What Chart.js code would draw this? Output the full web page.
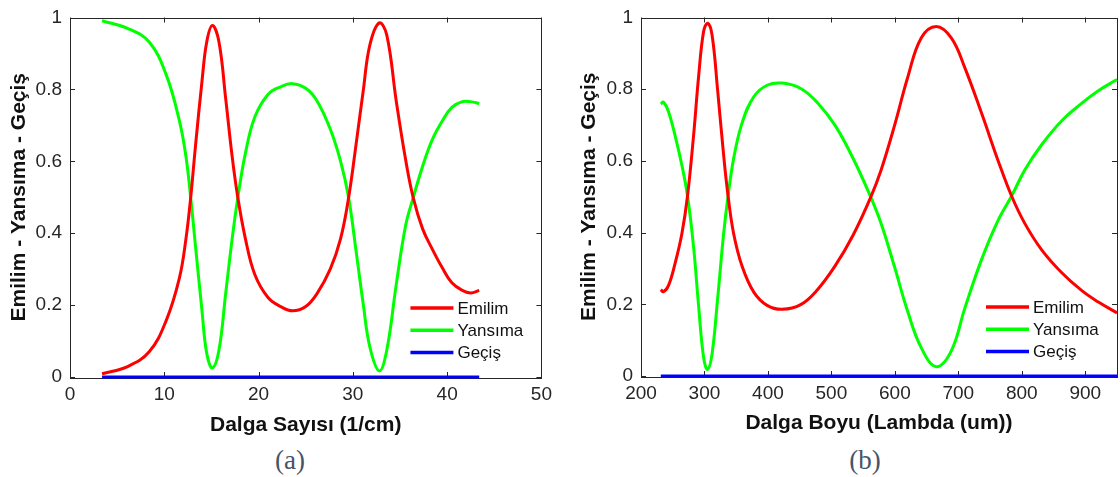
<!DOCTYPE html>
<html>
<head>
<meta charset="utf-8">
<script src="https://cdn.jsdelivr.net/npm/chart.js@4.4.1/dist/chart.umd.min.js"></script>
<style>
  body { margin: 0; background: #fff; width: 1120px; height: 477px; overflow: hidden; position: relative; }
  canvas { position: absolute; top: 0; }
  #chartA { left: 0; }
  #chartB { left: 560px; }
  .cap { position: absolute; top: 444px; width: 100px; text-align: center; line-height: 32px;
         font-family: "Liberation Serif", "Times New Roman", serif; font-size: 27px; color: #44546a; }
</style>
</head>
<body>
<canvas id="chartA" width="560" height="440"></canvas>
<canvas id="chartB" width="560" height="440"></canvas>
<div class="cap" style="left:240px">(a)</div>
<div class="cap" style="left:815px">(b)</div>
<script>
// (a) Dalga Sayısı (1/cm)
let waveNum = [3.4, 6.1, 8.4, 10.2, 11.6, 12.3, 12.8, 13.3, 14.0, 14.5, 15.1, 15.8, 16.5, 17.2, 17.8, 18.6, 19.6,
    21.0, 22.4, 23.6, 25.0, 26.2, 27.6, 28.7, 29.55, 30.4, 31.1, 31.8, 32.8, 33.6, 34.6, 35.6, 36.4, 37.4,
    38.4, 39.5, 40.5, 41.6, 42.5, 43.4];
let emilimA = [0.009, 0.029, 0.070, 0.157, 0.275, 0.385, 0.499, 0.64, 0.823, 0.932, 0.978, 0.932, 0.777, 0.613, 0.499, 0.385, 0.285,
    0.221, 0.195, 0.184, 0.196, 0.232, 0.300, 0.385, 0.499, 0.659, 0.796, 0.923, 0.985, 0.951, 0.768, 0.604, 0.499, 0.412,
    0.357, 0.303, 0.262, 0.241, 0.234, 0.241];
let yansimaA = [0.991, 0.970, 0.932, 0.841, 0.713, 0.613, 0.499, 0.367, 0.184, 0.066, 0.025, 0.075, 0.23, 0.385, 0.499, 0.622, 0.723,
    0.786, 0.808, 0.816, 0.803, 0.768, 0.690, 0.600, 0.499, 0.339, 0.203, 0.084, 0.017, 0.075, 0.257, 0.422, 0.499, 0.586,
    0.659, 0.713, 0.75, 0.766, 0.766, 0.761];
let gecisXA = [3.4, 43.4];
let gecisA = [0, 0];
let xTicksA = [0, 10, 20, 30, 40, 50];

// (b) Dalga Boyu (Lambda (um))
let waveLen = [231.2, 235.3, 243.2, 253.8, 264.4, 273.3, 282.8, 290.7, 298.6, 304.9, 311.9, 320.7, 330.2, 337.2, 346,
    359.3, 377.7, 398.7, 422.5, 451.6, 477.7, 505.8, 533.9, 562, 578.2, 599.2, 620.4, 641.5, 665.2, 688.9,
    710, 736.4, 762.8, 783.9, 804.9, 831.3, 863, 894.6, 920, 950];
let emilimB = [0.241, 0.235, 0.252, 0.315, 0.397, 0.502, 0.67, 0.834, 0.961, 0.984, 0.952, 0.798, 0.616, 0.502, 0.397,
    0.306, 0.234, 0.197, 0.186, 0.199, 0.240, 0.307, 0.392, 0.499, 0.574, 0.697, 0.834, 0.943, 0.975, 0.943,
    0.861, 0.734, 0.600, 0.502, 0.425, 0.352, 0.288, 0.238, 0.207, 0.176];
let yansimaB = [0.759, 0.764, 0.738, 0.67, 0.588, 0.502, 0.361, 0.197, 0.052, 0.018, 0.061, 0.215, 0.397, 0.502, 0.607,
    0.706, 0.779, 0.811, 0.817, 0.802, 0.763, 0.699, 0.608, 0.499, 0.426, 0.306, 0.179, 0.079, 0.026, 0.07,
    0.188, 0.324, 0.435, 0.502, 0.575, 0.645, 0.712, 0.761, 0.795, 0.827];
let gecisXB = [231.2, 950];
let gecisB = [0, 0];
let xTicksB = [200, 300, 400, 500, 600, 700, 800, 900];

let seriesNames = ['Emilim', 'Yansıma', 'Geçiş'];
let seriesColors = ['#ff0000', '#00ff00', '#0000ff'];
let yTicks = [0, 0.2, 0.4, 0.6, 0.8, 1];

const FONT = '"Liberation Sans", Arial, Helvetica, sans-serif';
const AXIS_COLOR = '#262626';

function pairs(xs, ys) {
    let out = [];
    for (let i = 0; i < xs.length; i++) {
        out.push({x: xs[i], y: ys[i]});
    }
    return out;
}

// matlab style box with inward ticks on all four sides
const boxPlugin = {
    id: 'box',
    beforeDatasetsDraw(chart) {
        const ctx = chart.ctx;
        const a = chart.chartArea;
        const xs = chart.scales.x, ys = chart.scales.y;
        ctx.save();
        ctx.strokeStyle = AXIS_COLOR;
        ctx.lineWidth = 1;
        ctx.beginPath();
        xs.ticks.forEach(t => {
            let px = Math.round(xs.getPixelForValue(t.value)) + 0.5;
            ctx.moveTo(px, a.bottom); ctx.lineTo(px, a.bottom - 5);
            ctx.moveTo(px, a.top); ctx.lineTo(px, a.top + 5);
        });
        ys.ticks.forEach(t => {
            let py = Math.round(ys.getPixelForValue(t.value)) + 0.5;
            ctx.moveTo(a.left, py); ctx.lineTo(a.left + 5, py);
            ctx.moveTo(a.right, py); ctx.lineTo(a.right - 5, py);
        });
        ctx.stroke();
        ctx.strokeRect(Math.round(a.left) + 0.5, Math.round(a.top) + 0.5,
            Math.round(a.right - a.left), Math.round(a.bottom - a.top));
        ctx.restore();
    }
};

// legend in the lower right corner of the plot
const cornerLegend = {
    id: 'cornerLegend',
    afterDatasetsDraw(chart) {
        const ctx = chart.ctx;
        const a = chart.chartArea;
        ctx.save();
        ctx.font = '17px ' + FONT;
        ctx.textBaseline = 'middle';
        ctx.fillStyle = '#111';
        chart.data.datasets.forEach((ds, i) => {
            let yy = a.bottom - 69 + i * 22.3;
            ctx.strokeStyle = ds.borderColor;
            ctx.lineWidth = 3.5;
            ctx.beginPath();
            ctx.moveTo(a.right - 131, yy);
            ctx.lineTo(a.right - 88, yy);
            ctx.stroke();
            ctx.fillText(ds.label, a.right - 84, yy + 1);
        });
        ctx.restore();
    }
};

function makeChart(id, xData, em, ya, gx, ge, xOpts, layout) {
    return new Chart(document.getElementById(id), {
        type: 'line',
        data: {
            datasets: [
                {label: seriesNames[0], data: pairs(xData, em), borderColor: seriesColors[0], clip: false},
                {label: seriesNames[1], data: pairs(xData, ya), borderColor: seriesColors[1], clip: false},
                {label: seriesNames[2], data: pairs(gx, ge), borderColor: seriesColors[2], clip: false}
            ]
        },
        options: {
            responsive: false,
            animation: false,
            layout: {padding: layout.padding},
            elements: {
                point: {radius: 0},
                line: {borderWidth: 3, tension: 0.4, fill: false}
            },
            plugins: {legend: {display: false}, tooltip: {enabled: false}},
            scales: {
                x: {
                    type: 'linear',
                    min: xOpts.min,
                    max: xOpts.max,
                    grid: {display: false, drawTicks: false},
                    border: {display: false},
                    ticks: {padding: xOpts.tickPad, color: AXIS_COLOR,
                        font: {family: FONT, size: 19, lineHeight: 1}, maxRotation: 0, autoSkip: false,
                        callback: v => String(v)},
                    afterBuildTicks(scale) {
                        scale.ticks = xOpts.ticks.map(v => ({value: v}));
                    },
                    afterFit(scale) { scale.height = layout.xHeight; },
                    title: {display: true, text: xOpts.title, color: '#111',
                        font: {family: FONT, size: 21, weight: 'bold'}, padding: {top: 0, bottom: xOpts.titlePad}}
                },
                y: {
                    min: 0,
                    max: 1,
                    grid: {display: false, drawTicks: false},
                    border: {display: false},
                    afterBuildTicks(scale) {
                        scale.ticks = yTicks.map(v => ({value: v}));
                    },
                    ticks: {padding: 8, color: AXIS_COLOR, font: {family: FONT, size: 19, lineHeight: 1},
                        callback: v => String(+v.toFixed(1))},
                    afterFit(scale) { scale.width = layout.yWidth; },
                    title: {display: true, text: 'Emilim - Yansıma - Geçiş', color: '#111',
                        font: {family: FONT, size: 21, weight: 'bold'}, padding: {top: layout.yTitlePad, bottom: 0}}
                }
            }
        },
        plugins: [boxPlugin, cornerLegend]
    });
}

makeChart('chartA', waveNum, emilimA, yansimaA, gecisXA, gecisA,
    {min: 0, max: 50, ticks: xTicksA, title: 'Dalga Sayısı (1/cm)', tickPad: 8, titlePad: 2},
    {padding: {left: 0, right: 13, top: 12, bottom: 0}, xHeight: 63, yWidth: 70, yTitlePad: 7});

makeChart('chartB', waveLen, emilimB, yansimaB, gecisXB, gecisB,
    {min: 200, max: 950, ticks: xTicksB, title: 'Dalga Boyu (Lambda (um))', tickPad: 8, titlePad: 4},
    {padding: {left: 0, right: 3, top: 10, bottom: 0}, xHeight: 64, yWidth: 81, yTitlePad: 17});
</script>
</body>
</html>
